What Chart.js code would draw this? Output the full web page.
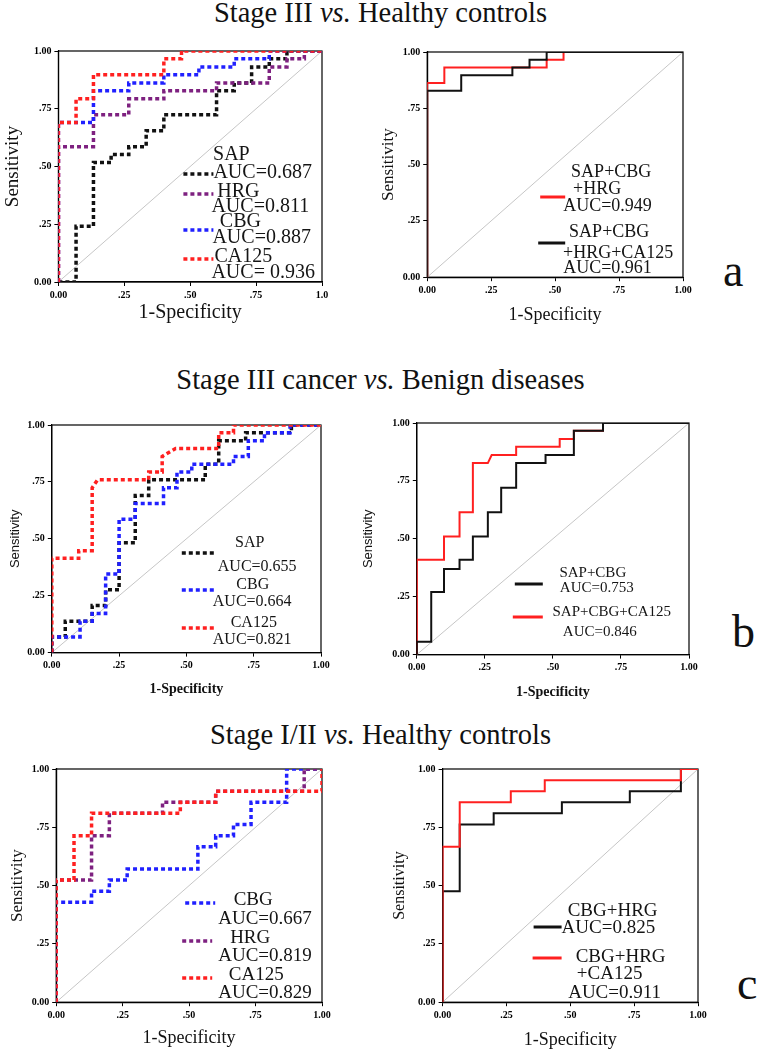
<!DOCTYPE html>
<html>
<head>
<meta charset="utf-8">
<script src="https://cdn.jsdelivr.net/npm/chart.js@4.4.1/dist/chart.umd.min.js"></script>
<style>
  body { margin: 0; background: #fff; width: 761px; height: 1050px; position: relative; overflow: hidden;
         font-family: "Liberation Serif", "Times New Roman", serif; color: #111; }
  .title { position: absolute; left: 0; width: 761px; text-align: center; font-size: 28.5px; line-height: 31px; }
  .letter { position: absolute; font-size: 46px; line-height: 46px; }
  canvas { position: absolute; }
</style>
</head>
<body>
<div class="title" style="top:-3px">Stage III <i>vs.</i> Healthy controls</div>
<div class="title" style="top:364px">Stage III cancer <i>vs.</i> Benign diseases</div>
<div class="title" style="top:719px">Stage I/II <i>vs.</i> Healthy controls</div>
<div class="letter" style="left:723px;top:248px">a</div>
<div class="letter" style="left:732px;top:609px">b</div>
<div class="letter" style="left:737px;top:961px">c</div>

<canvas id="a1"></canvas>
<canvas id="a2"></canvas>
<canvas id="b1"></canvas>
<canvas id="b2"></canvas>
<canvas id="c1"></canvas>
<canvas id="c2"></canvas>

<script>
// tick labels
const yTickLabels = ['0.00', '.25', '.50', '.75', '1.00'];
const xTickLabelsA = ['0.00', '.25', '.50', '.75', '1.0'];
const xTickLabels = ['0.00', '.25', '.50', '.75', '1.00'];

// a: Stage III vs. healthy controls  (x = 1-specificity, y = sensitivity)
const aSapX = [0, 0.067, 0.067, 0.133, 0.133, 0.2, 0.2, 0.267, 0.267, 0.333, 0.333, 0.4, 0.4, 0.6, 0.6, 0.667, 0.667, 0.733, 0.733, 0.8, 0.8, 0.867, 0.867, 1];
const aSapY = [0, 0, 0.241, 0.241, 0.517, 0.517, 0.552, 0.552, 0.586, 0.586, 0.655, 0.655, 0.724, 0.724, 0.828, 0.828, 0.862, 0.862, 0.931, 0.931, 0.966, 0.966, 1, 1];
const aHrgX = [0, 0, 0.133, 0.133, 0.267, 0.267, 0.4, 0.4, 0.6, 0.6, 0.8, 0.8, 0.867, 0.867, 0.933, 0.933, 1];
const aHrgY = [0, 0.586, 0.586, 0.724, 0.724, 0.793, 0.793, 0.828, 0.828, 0.862, 0.862, 0.931, 0.931, 0.966, 0.966, 1, 1];
const aCbgX = [0, 0, 0.133, 0.133, 0.267, 0.267, 0.4, 0.4, 0.533, 0.533, 0.667, 0.667, 0.8, 0.8, 1];
const aCbgY = [0, 0.69, 0.69, 0.828, 0.828, 0.862, 0.862, 0.897, 0.897, 0.931, 0.931, 0.966, 0.966, 1, 1];
const aCaX = [0, 0, 0.067, 0.067, 0.133, 0.133, 0.4, 0.4, 0.467, 0.467, 1];
const aCaY = [0, 0.69, 0.69, 0.793, 0.793, 0.897, 0.897, 0.966, 0.966, 1, 1];
// combinations
const aSapCbgHrgX = [0, 0, 0.067, 0.067, 0.467, 0.467, 0.533, 0.533, 1];
const aSapCbgHrgY = [0, 0.862, 0.862, 0.931, 0.931, 0.966, 0.966, 1, 1];
const aAllX = [0, 0, 0.133, 0.133, 0.333, 0.333, 0.4, 0.4, 0.467, 0.467, 1];
const aAllY = [0, 0.828, 0.828, 0.897, 0.897, 0.931, 0.931, 0.966, 0.966, 1, 1];

// b: Stage III cancer vs. benign diseases
const bSapX = [0, 0, 0.05, 0.05, 0.15, 0.15, 0.2, 0.2, 0.25, 0.25, 0.31, 0.31, 0.36, 0.36, 0.57, 0.57, 0.62, 0.62, 0.72, 0.72, 0.89, 0.89, 1];
const bSapY = [0, 0.069, 0.069, 0.138, 0.138, 0.207, 0.207, 0.276, 0.276, 0.483, 0.483, 0.69, 0.69, 0.759, 0.759, 0.828, 0.828, 0.931, 0.931, 0.966, 0.966, 1, 1];
const bCbgX = [0, 0, 0.105, 0.105, 0.15, 0.15, 0.2, 0.2, 0.25, 0.25, 0.31, 0.31, 0.415, 0.415, 0.465, 0.465, 0.52, 0.52, 0.675, 0.675, 0.73, 0.73, 0.79, 0.79, 0.885, 0.885, 1];
const bCbgY = [0, 0.069, 0.069, 0.138, 0.138, 0.172, 0.172, 0.345, 0.345, 0.586, 0.586, 0.655, 0.655, 0.724, 0.724, 0.793, 0.793, 0.828, 0.828, 0.862, 0.862, 0.931, 0.931, 0.966, 0.966, 1, 1];
const bCaX = [0, 0, 0.1, 0.1, 0.15, 0.15, 0.17, 0.36, 0.36, 0.41, 0.41, 0.46, 0.62, 0.62, 0.675, 0.675, 1];
const bCaY = [0, 0.414, 0.414, 0.448, 0.448, 0.724, 0.759, 0.759, 0.793, 0.793, 0.862, 0.897, 0.897, 0.966, 0.966, 1, 1];
const bSapCbgX = [0, 0, 0.053, 0.053, 0.1, 0.1, 0.157, 0.157, 0.206, 0.206, 0.261, 0.261, 0.31, 0.31, 0.365, 0.365, 0.473, 0.473, 0.577, 0.577, 0.684, 0.684, 1];
const bSapCbgY = [0, 0.055, 0.055, 0.27, 0.27, 0.37, 0.37, 0.41, 0.41, 0.51, 0.51, 0.615, 0.615, 0.72, 0.72, 0.827, 0.827, 0.862, 0.862, 0.966, 0.966, 1, 1];
const bSapCbgCaX = [0, 0, 0.1, 0.1, 0.157, 0.157, 0.206, 0.206, 0.261, 0.275, 0.365, 0.365, 0.525, 0.525, 0.577, 0.577, 0.684, 0.684, 1];
const bSapCbgCaY = [0, 0.41, 0.41, 0.51, 0.51, 0.615, 0.615, 0.827, 0.827, 0.862, 0.862, 0.897, 0.897, 0.931, 0.931, 0.966, 0.966, 1, 1];

// c: Stage I/II vs. healthy controls
const cCbgX = [0, 0, 0.133, 0.133, 0.2, 0.2, 0.267, 0.267, 0.533, 0.533, 0.6, 0.6, 0.667, 0.667, 0.733, 0.733, 0.867, 0.867, 1];
const cCbgY = [0, 0.429, 0.429, 0.476, 0.476, 0.524, 0.524, 0.571, 0.571, 0.667, 0.667, 0.714, 0.714, 0.762, 0.762, 0.857, 0.857, 1, 1];
const cHrgX = [0, 0, 0.133, 0.133, 0.2, 0.2, 0.4, 0.4, 0.6, 0.6, 0.933, 0.933, 1];
const cHrgY = [0, 0.524, 0.524, 0.714, 0.714, 0.81, 0.81, 0.857, 0.857, 0.905, 0.905, 1, 1];
const cCaX = [0, 0, 0.067, 0.067, 0.133, 0.133, 0.467, 0.467, 0.6, 0.6, 1, 1];
const cCaY = [0, 0.524, 0.524, 0.714, 0.714, 0.81, 0.81, 0.857, 0.857, 0.905, 0.905, 1];
const cCbgHrgX = [0, 0, 0.067, 0.067, 0.2, 0.2, 0.467, 0.467, 0.733, 0.733, 0.933, 0.933, 1];
const cCbgHrgY = [0, 0.476, 0.476, 0.762, 0.762, 0.81, 0.81, 0.857, 0.857, 0.905, 0.905, 1, 1];
const cCbgHrgCaX = [0, 0, 0.067, 0.067, 0.267, 0.267, 0.4, 0.4, 0.933, 0.933, 1];
const cCbgHrgCaY = [0, 0.667, 0.667, 0.857, 0.857, 0.905, 0.905, 0.952, 0.952, 1, 1];

const refX = [0, 1];
const refY = [0, 1];

const BLACK = '#111111', PURPLE = '#7e2180', BLUE = '#2020ff', RED = '#ff2020';
const SERIF = '"Liberation Serif", "Times New Roman", serif';
const NARROW = '"Liberation Sans Narrow", "Liberation Sans", sans-serif';

const pts = (xs, ys) => xs.map((x, i) => ({ x: x, y: ys[i] }));

function dotted(data, color) {
  return { data: data, borderColor: color, borderWidth: 3.5, borderDash: [4, 3],
           borderCapStyle: 'butt', borderJoinStyle: 'miter', pointRadius: 0, tension: 0, fill: false };
}
function solid(data, color) {
  return { data: data, borderColor: color, borderWidth: 2, pointRadius: 0, tension: 0, fill: false,
           borderJoinStyle: 'miter' };
}
function diagonal() {
  return { data: pts(refX, refY), borderColor: '#c6c6c6', borderWidth: 1, pointRadius: 0, fill: false };
}

// frame round the plot area
const framePlugin = {
  id: 'frame',
  beforeDatasetsDraw(chart) {
    const { ctx, chartArea: a } = chart;
    ctx.save();
    ctx.strokeStyle = '#000';
    ctx.lineWidth = 1.2;
    ctx.strokeRect(a.left, a.top, a.right - a.left, a.bottom - a.top);
    ctx.restore();
  }
};

function legendPlugin(leg) {
  return {
    id: 'rocLegend',
    afterDatasetsDraw(chart) {
      const { ctx, chartArea: a } = chart;
      ctx.save();
      leg.samples.forEach(s => {
        ctx.strokeStyle = s[0];
        ctx.lineWidth = leg.dashed ? 3.5 : 3;
        ctx.setLineDash(leg.dashed ? [4, 3] : []);
        ctx.beginPath();
        ctx.moveTo(a.left + s[1], a.top + s[3]);
        ctx.lineTo(a.left + s[2], a.top + s[3]);
        ctx.stroke();
      });
      ctx.setLineDash([]);
      ctx.fillStyle = '#151515';
      ctx.font = leg.size + 'px ' + SERIF;
      ctx.textBaseline = 'middle';
      leg.texts.forEach(t => {
        ctx.textAlign = t[3];
        ctx.fillText(t[0], a.left + t[1], a.top + t[2]);
      });
      ctx.restore();
    }
  };
}

function panel(id, box, datasets, xLabels, axes, leg) {
  const yLh = axes.yFont.size * 1.2, xLh = axes.xFont.size * 1.2;
  const W = axes.yGap + yLh / 2;
  const H = axes.xGap + xLh / 2;
  const padTop = 10, padRight = 14;
  const cv = document.getElementById(id);
  cv.width = Math.round(W + box.r - box.l + padRight);
  cv.height = Math.round(padTop + box.b - box.t + H);
  cv.style.left = (box.l - W) + 'px';
  cv.style.top = (box.t - padTop) + 'px';
  const tickFont = { family: SERIF, size: 10, weight: 'bold' };
  const grid = { drawOnChartArea: false, drawTicks: true, tickLength: 4, color: '#000', tickColor: '#000' };
  const border = { display: true, color: '#000', width: 1.2 };

  new Chart(cv, {
    type: 'line',
    data: { datasets: datasets.concat([diagonal()]) },
    options: {
      responsive: false,
      animation: false,
      parsing: false,
      layout: { padding: { top: padTop, right: padRight, left: 0, bottom: 0 } },
      plugins: { legend: { display: false }, tooltip: { enabled: false } },
      scales: {
        x: {
          type: 'linear', min: 0, max: 1,
          ticks: { stepSize: 0.25, autoSkip: false, maxRotation: 0, padding: 3, color: '#000',
                   font: tickFont, callback: (v, i) => xLabels[i] },
          grid: grid, border: border,
          title: { display: true, text: '1-Specificity', color: '#111', font: axes.xFont, padding: 0 },
          afterFit: s => { s.height = H; }
        },
        y: {
          type: 'linear', min: 0, max: 1,
          ticks: { stepSize: 0.25, autoSkip: false, padding: 3, color: '#000',
                   font: tickFont, callback: (v, i) => yTickLabels[i] },
          grid: grid, border: border,
          title: { display: true, text: 'Sensitivity', color: '#111', font: axes.yFont, padding: 0 },
          afterFit: s => { s.width = W; }
        }
      }
    },
    plugins: [framePlugin, legendPlugin(leg)]
  });
}

// a, left
panel('a1', { l: 58, t: 51, r: 322, b: 282 }, [
  dotted(pts(aCaX, aCaY), RED),
  dotted(pts(aCbgX, aCbgY), BLUE),
  dotted(pts(aHrgX, aHrgY), PURPLE),
  dotted(pts(aSapX, aSapY), BLACK)
], xTickLabelsA,
{ yFont: { family: SERIF, size: 19 }, xFont: { family: SERIF, size: 20 }, yGap: 45, xGap: 31 },
{ dashed: true, size: 20,
  samples: [[BLACK, 125, 155, 123], [PURPLE, 125, 155, 143], [BLUE, 125, 155, 179], [RED, 125, 155, 208]],
  texts: [['SAP', 173, 104, 'center'], ['AUC=0.687', 155, 122, 'left'],
          ['HRG', 180, 141, 'center'], ['AUC=0.811', 153, 156, 'left'],
          ['CBG', 182, 171, 'center'], ['AUC=0.887', 154, 187, 'left'],
          ['CA125', 185, 206, 'center'], ['AUC= 0.936', 153, 222, 'left']] });

// a, right
panel('a2', { l: 427, t: 52, r: 683, b: 277 }, [
  solid(pts(aAllX, aAllY), BLACK),
  solid(pts(aSapCbgHrgX, aSapCbgHrgY), RED)
], xTickLabels,
{ yFont: { family: SERIF, size: 17 }, xFont: { family: SERIF, size: 18 }, yGap: 39, xGap: 38 },
{ dashed: false, size: 18,
  samples: [[RED, 113, 138, 145], [BLACK, 111, 138, 191]],
  texts: [['SAP+CBG', 184, 120, 'center'], ['+HRG', 170, 137, 'center'], ['AUC=0.949', 136, 154, 'left'],
          ['SAP+CBG', 182, 180, 'center'], ['+HRG+CA125', 191, 201, 'center'], ['AUC=0.961', 136, 216, 'left']] });

// b, left
panel('b1', { l: 52, t: 425, r: 321, b: 653 }, [
  dotted(pts(bCaX, bCaY), RED),
  dotted(pts(bCbgX, bCbgY), BLUE),
  dotted(pts(bSapX, bSapY), BLACK)
], xTickLabels,
{ yFont: { family: NARROW, size: 13 }, xFont: { family: SERIF, size: 14, weight: 'bold' }, yGap: 36, xGap: 37 },
{ dashed: true, size: 16,
  samples: [[BLACK, 130, 163, 128], [BLUE, 130, 163, 165], [RED, 130, 163, 203]],
  texts: [['SAP', 198, 118, 'center'], ['AUC=0.655', 166, 142, 'left'],
          ['CBG', 201, 160, 'center'], ['AUC=0.664', 161, 177, 'left'],
          ['CA125', 202, 198, 'center'], ['AUC=0.821', 161, 215, 'left']] });

// b, right
panel('b2', { l: 417, t: 423, r: 689, b: 655 }, [
  solid(pts(bSapCbgX, bSapCbgY), BLACK),
  solid(pts(bSapCbgCaX, bSapCbgCaY), RED)
], xTickLabels,
{ yFont: { family: NARROW, size: 13 }, xFont: { family: SERIF, size: 14, weight: 'bold' }, yGap: 48, xGap: 38 },
{ dashed: false, size: 15,
  samples: [[BLACK, 98, 126, 161], [RED, 96, 126, 194]],
  texts: [['SAP+CBG', 176, 150, 'center'], ['AUC=0.753', 180, 165, 'center'],
          ['SAP+CBG+CA125', 195, 189, 'center'], ['AUC=0.846', 183, 209, 'center']] });

// c, left
panel('c1', { l: 56, t: 769, r: 322, b: 1002 }, [
  dotted(pts(cCaX, cCaY), RED),
  dotted(pts(cHrgX, cHrgY), PURPLE),
  dotted(pts(cCbgX, cCbgY), BLUE)
], xTickLabels,
{ yFont: { family: SERIF, size: 17 }, xFont: { family: SERIF, size: 18 }, yGap: 39, xGap: 36 },
{ dashed: true, size: 19,
  samples: [[BLUE, 129, 159, 134], [PURPLE, 126, 156, 172], [RED, 126, 156, 209]],
  texts: [['CBG', 197, 131, 'center'], ['AUC=0.667', 162, 150, 'left'],
          ['HRG', 194, 169, 'center'], ['AUC=0.819', 162, 187, 'left'],
          ['CA125', 200, 206, 'center'], ['AUC=0.829', 162, 224, 'left']] });

// c, right
panel('c2', { l: 443, t: 769, r: 698, b: 1002 }, [
  solid(pts(cCbgHrgCaX, cCbgHrgCaY), RED),
  solid(pts(cCbgHrgX, cCbgHrgY), BLACK)
], xTickLabels,
{ yFont: { family: SERIF, size: 16 }, xFont: { family: SERIF, size: 18 }, yGap: 43, xGap: 38 },
{ dashed: false, size: 19,
  samples: [[BLACK, 91, 119, 158], [RED, 90, 119, 189]],
  texts: [['CBG+HRG', 170, 142, 'center'], ['AUC=0.825', 119, 159, 'left'],
          ['CBG+HRG', 178, 188, 'center'], ['+CA125', 167, 205, 'center'], ['AUC=0.911', 172, 224, 'center']] });
</script>
</body>
</html>
